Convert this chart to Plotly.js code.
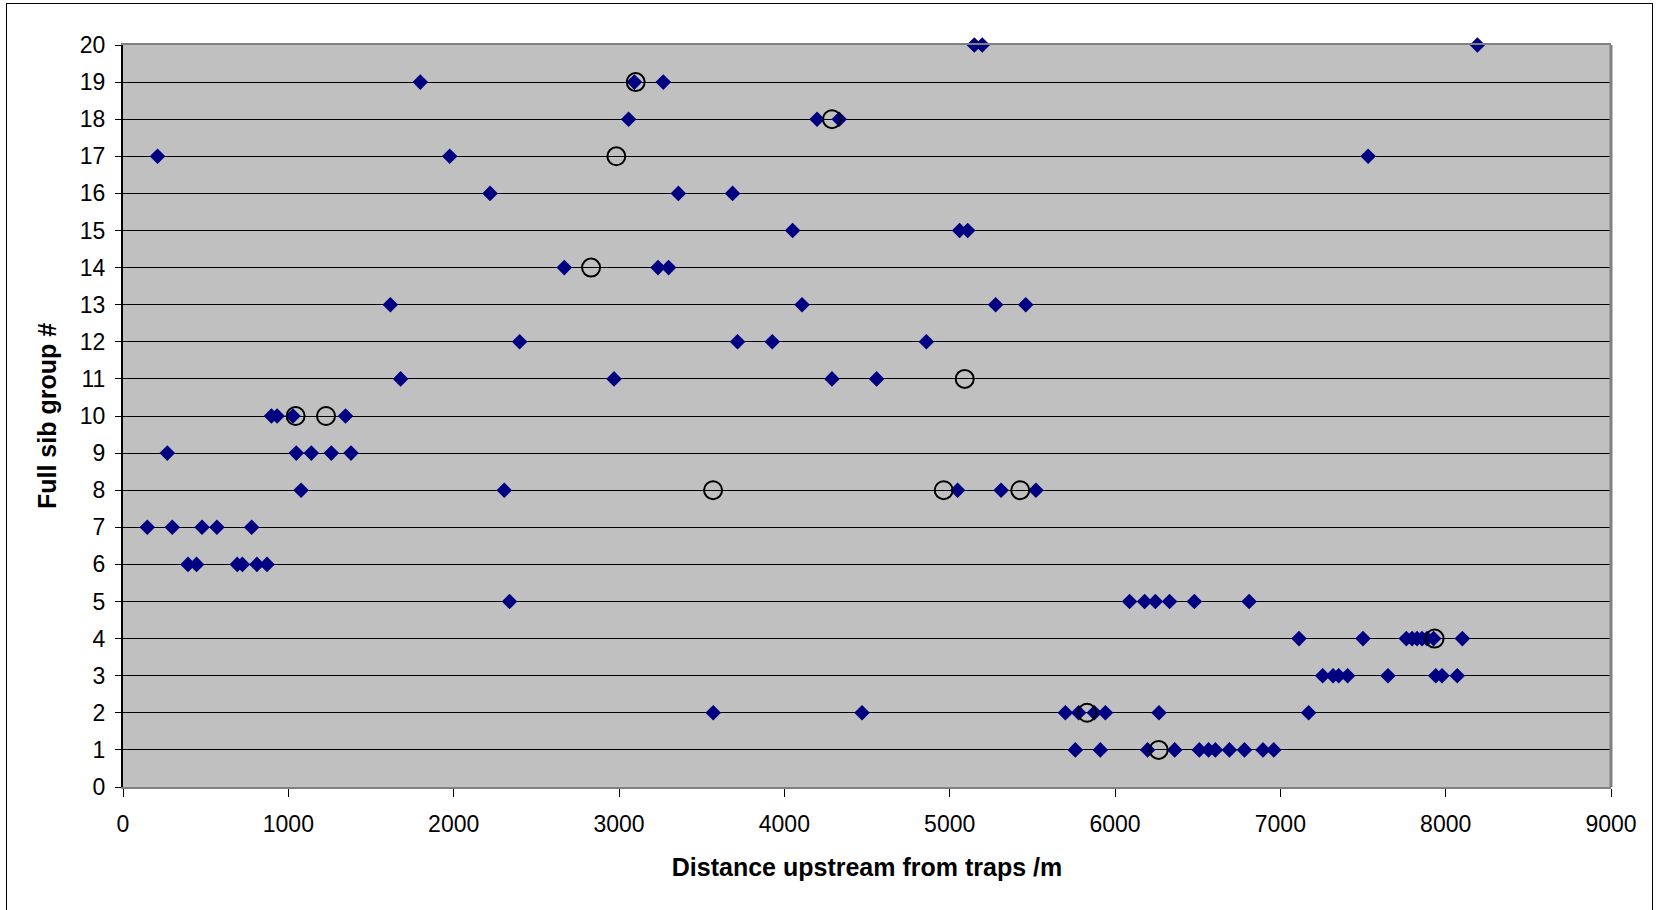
<!DOCTYPE html>
<html>
<head>
<meta charset="utf-8">
<script src="https://cdn.plot.ly/plotly-3.0.1.min.js"></script>
<style>
  html, body { margin: 0; padding: 0; background: #ffffff; }
  #chart { width: 1658px; height: 910px; }
  #frame { position: absolute; left: 6px; top: 3px; width: 1645px; height: 930px; border: 1px solid #000; pointer-events: none; }
</style>
</head>
<body>
<div id="chart"></div>
<div id="frame"></div>
<script>
// Full sib group membership by distance upstream (diamonds)
const diamondX = [
  5149, 5197, 8192,
  1798, 3093, 3268,
  3058, 4198, 4332,
  209, 1976, 7531,
  2220, 3359, 3687,
  4050, 5060, 5109,
  2669, 3236, 3300,
  1617, 4107, 5278, 5460,
  2399, 3717, 3927, 4859,
  1679, 2970, 4288, 4558,
  898, 932, 1028, 1346,
  268, 1048, 1139, 1260, 1379,
  1077, 2306, 5048, 5311, 5522,
  147, 298, 478, 568, 778,
  393, 445, 691, 722, 810, 871,
  2338, 6088, 6179, 6244, 6330, 6480, 6811,
  7113, 7500, 7762, 7797, 7827, 7857, 7887, 7927, 8101,
  7256, 7319, 7353, 7407, 7651, 7940, 7978, 8070,
  3570, 4470, 5700, 5780, 5875, 5942, 6266, 7171,
  5760, 5911, 6197, 6361, 6510, 6566, 6607, 6692, 6783, 6895, 6960
];
const diamondY = [
  20, 20, 20,
  19, 19, 19,
  18, 18, 18,
  17, 17, 17,
  16, 16, 16,
  15, 15, 15,
  14, 14, 14,
  13, 13, 13, 13,
  12, 12, 12, 12,
  11, 11, 11, 11,
  10, 10, 10, 10,
  9, 9, 9, 9, 9,
  8, 8, 8, 8, 8,
  7, 7, 7, 7, 7,
  6, 6, 6, 6, 6, 6,
  5, 5, 5, 5, 5, 5, 5,
  4, 4, 4, 4, 4, 4, 4, 4, 4,
  3, 3, 3, 3, 3, 3, 3, 3,
  2, 2, 2, 2, 2, 2, 2, 2,
  1, 1, 1, 1, 1, 1, 1, 1, 1, 1, 1
];
// Open circles
const circleX = [3101, 4288, 2984, 2831, 5091, 1044, 1228, 3569, 4964, 5427, 7933, 5831, 6264];
const circleY = [19, 18, 17, 14, 11, 10, 10, 8, 8, 8, 4, 2, 1];

const xTitle = 'Distance upstream from traps /m';
const yTitle = 'Full sib group #';

const FONT = 'Liberation Sans, Arial, sans-serif';

const traces = [
  {
    type: 'scatter', mode: 'markers', x: diamondX, y: diamondY,
    marker: { symbol: 'diamond', size: 12, color: '#000080', line: { width: 0 } },
    cliponaxis: false, showlegend: false, hoverinfo: 'x+y'
  },
  {
    type: 'scatter', mode: 'markers', x: circleX, y: circleY,
    marker: { symbol: 'circle-open', size: 18, color: '#000000', line: { width: 2, color: '#000000' } },
    cliponaxis: false, showlegend: false, hoverinfo: 'x+y'
  }
];

const layout = {
  width: 1658, height: 910,
  margin: { l: 123, r: 47, t: 45, b: 123, pad: 0 },
  paper_bgcolor: '#ffffff',
  plot_bgcolor: '#c0c0c0',
  font: { family: FONT, color: '#000000', size: 23 },
  xaxis: {
    range: [0, 9000], dtick: 1000, tick0: 0,
    showgrid: false, zeroline: false,
    showline: true, linecolor: '#808080', linewidth: 2, mirror: true,
    ticks: 'outside', ticklen: 8, tickcolor: '#000000', tickwidth: 1,
    ticklabelstandoff: 7,
    tickfont: { size: 23, family: FONT },
    title: { text: xTitle, font: { size: 25, family: FONT, weight: 'bold' }, standoff: 23 }
  },
  yaxis: {
    range: [0, 20], dtick: 1, tick0: 0,
    showgrid: true, gridcolor: '#000000', gridwidth: 1,
    zeroline: false,
    showline: true, linecolor: '#000000', linewidth: 2,
    ticks: 'outside', ticklen: 6, tickcolor: '#000000', tickwidth: 1,
    ticklabelstandoff: 5,
    tickfont: { size: 23, family: FONT },
    title: { text: yTitle, font: { size: 25, family: FONT, weight: 'bold' }, standoff: 16 }
  },
  shapes: [
    { type: 'line', xref: 'paper', yref: 'paper', x0: 1, x1: 1, y0: 0, y1: 1, line: { color: '#808080', width: 3 } }
  ]
};

Plotly.newPlot('chart', traces, layout, { displayModeBar: false, staticPlot: true });
</script>
</body>
</html>
